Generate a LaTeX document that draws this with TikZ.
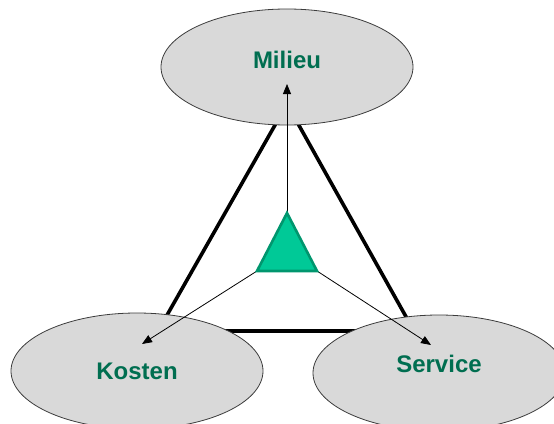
\documentclass[tikz,border=0pt]{standalone}
\usepackage{fontspec}
\setmainfont{Liberation Sans}
\usetikzlibrary{shapes.geometric,arrows.meta}
\definecolor{ellfill}{RGB}{217,217,217}
\definecolor{ellline}{RGB}{60,60,60}
\definecolor{txtgreen}{RGB}{0,110,80}
\definecolor{trifill}{RGB}{0,201,151}
\definecolor{triline}{RGB}{0,150,110}
\tikzset{
  bubble/.style={ellipse, draw=ellline, line width=0.8pt, fill=ellfill, minimum width=252pt, minimum height=116pt, inner sep=0pt},
  lbl/.style={text=txtgreen, font=\fontsize{24}{28}\selectfont\bfseries, inner sep=0pt, anchor=base},
  frame/.style={line width=3.6pt, line join=miter},
  link/.style={line width=0.8pt, -{Triangle[length=10pt,width=8pt]}},
  core/.style={fill=trifill, draw=triline, line width=2.6pt, line join=miter}
}
\begin{document}
\begin{tikzpicture}[x=1pt,y=-1pt]
\useasboundingbox (0,0) rectangle (554,423);
% thick triangle frame
\coordinate (fa) at (287,104);
\coordinate (fl) at (158,331);
\coordinate (fr) at (414,331);
\draw[frame] (fa) -- (fl) -- (fr) -- cycle;
% ellipses
\node[bubble] (milieu) at (287,67) {};
\node[bubble] (kosten) at (137,371) {};
\node[bubble] (service) at (439,373) {};
% labels
\node[lbl] (tm) at (287,68) {Milieu};
\node[lbl] (tk) at (137,379) {Kosten};
\node[lbl] (ts) at (439,372) {Service};
% arrow tips
\coordinate (am) at (287,84);
\coordinate (ak) at (142,344);
\coordinate (as) at (431,345);
% green triangle vertices
\coordinate (ga) at (287,213);
\coordinate (gl) at (257,271);
\coordinate (gr) at (317,271);
\draw[link] (ga) -- (am);
\draw[link] (gl) -- (ak);
\draw[link] (gr) -- (as);
\draw[core] (ga) -- (gl) -- (gr) -- cycle;
\end{tikzpicture}
\end{document}
